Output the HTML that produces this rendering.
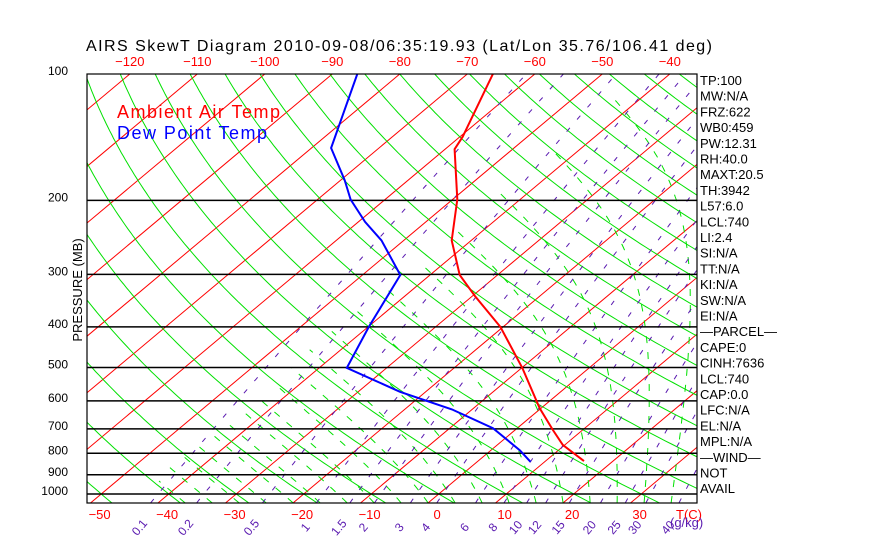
<!DOCTYPE html>
<html><head><meta charset="utf-8"><style>
body{margin:0;background:#fff;}
svg{display:block;font-family:"Liberation Sans",sans-serif;}
</style></head><body>
<svg id="chart" width="870" height="560" viewBox="0 0 870 560" xmlns="http://www.w3.org/2000/svg">
<defs><clipPath id="plotclip"><rect x="87" y="74" width="610" height="429"/></clipPath></defs>
<rect x="0" y="0" width="870" height="560" fill="#fff"/>
<text x="86" y="51" font-size="16" fill="#000" textLength="626" lengthAdjust="spacing">AIRS SkewT Diagram 2010-09-08/06:35:19.93 (Lat/Lon 35.76/106.41 deg)</text>
<g id="grid" clip-path="url(#plotclip)"></g>
<g id="profiles" clip-path="url(#plotclip)"></g>
<rect x="87" y="74" width="610" height="429" fill="none" stroke="#000" stroke-width="1.2"/>
<g id="labels"></g>
<text x="117" y="118" font-size="18" fill="#ff0000" textLength="163" lengthAdjust="spacing">Ambient Air Temp</text>
<text x="117" y="139" font-size="18" fill="#0000ff" textLength="150" lengthAdjust="spacing">Dew Point Temp</text>
<text transform="translate(82,290) rotate(-90)" font-size="13" text-anchor="middle" fill="#000">PRESSURE (MB)</text>
<text x="676" y="519" font-size="13" fill="#ff0000">T(C)</text>
<text x="670" y="527" font-size="13" fill="#5a1ab0">(g/kg)</text>
<g id="info"></g>
</svg>
<script>
var isobarLevels=[100,200,300,400,500,600,700,800,900,1000];
var isotherms=[-130,-120,-110,-100,-90,-80,-70,-60,-50,-40,-30,-20,-10,0,10,20,30,40];
var topTempLabels=[-120,-110,-100,-90,-80,-70,-60,-50,-40];
var bottomTempLabels=[-50,-40,-30,-20,-10,0,10,20,30];
var mixingRatios=[0.1,0.2,0.5,1,1.5,2,3,4,6,8,10,12,15,20,25,30,40];
var tempPressure=[100,141,151,199,249,301,338,400,501,625,704,764,835];
var tempValues=[-66.2,-59.6,-58.6,-49.3,-42.9,-35.6,-29.6,-20.4,-9.9,-0.2,5.6,9.7,15.7];
var dewPressure=[100,150,179,199,225,249,301,400,501,571,629,697,787,838];
var dewValues=[-86.3,-77.1,-69.4,-65.1,-59.0,-53.3,-44.4,-39.9,-35.9,-23.8,-13.0,-3.6,4.3,7.9];
var infoLabels=["TP:100","MW:N/A","FRZ:622","WB0:459","PW:12.31","RH:40.0","MAXT:20.5","TH:3942","L57:6.0","LCL:740","LI:2.4","SI:N/A","TT:N/A","KI:N/A","SW:N/A","EI:N/A","\u2014PARCEL\u2014","CAPE:0","CINH:7636","LCL:740","CAP:0.0","LFC:N/A","EL:N/A","MPL:N/A","\u2014WIND\u2014"," NOT"," AVAIL"];

var NS="http://www.w3.org/2000/svg";
var PB=1050,PT=100,YT=74,K=182.4,X0=428,YB=503,DX=6.75,SK=1.193;
function yP(p){return YT+K*Math.log(p/PT);}
function xT(t,p){return X0+DX*t+(YB-yP(p))*SK;}
function mk(tag,attrs,parent){var e=document.createElementNS(NS,tag);for(var k in attrs)e.setAttribute(k,attrs[k]);parent.appendChild(e);return e;}
var grid=document.getElementById('grid'),prof=document.getElementById('profiles'),lab=document.getElementById('labels'),info=document.getElementById('info');
var presSteps=[];for(var lp=Math.log(PB);lp>=Math.log(PT)-1e-9;lp-=0.02)presSteps.push(Math.exp(lp));presSteps.push(PT);
function pathFrom(ps,ts){var d='';for(var i=0;i<ps.length;i++){d+=(i?'L':'M')+xT(ts[i],ps[i]).toFixed(1)+','+yP(ps[i]).toFixed(1);}return d;}

isotherms.forEach(function(t){
 var l=mk('line',{x1:xT(t,PB),y1:yP(PB),x2:xT(t,PT),y2:yP(PT),stroke:'#ff0000','stroke-width':1},grid);
 
 
});
for(var th=-70;th<=250;th+=10){
 var ts=presSteps.map(function(p){return (th+273.15)*Math.pow(p/1000,0.286)-273.15;});
 var pa=mk('path',{d:pathFrom(presSteps,ts),fill:'none',stroke:'#00e000','stroke-width':1},grid);
 
 
}
function es(t){return 6.112*Math.exp(17.67*t/(t+243.5));}
for(var t0=-36;t0<=44;t0+=4){
 var T=t0+273.15,ps=[],tsm=[],p=PB;
 for(var i=0;i<presSteps.length;i++){
  var pn=presSteps[i];
  if(i>0){var dp=pn-p;var tc=T-273.15;var e=es(tc);var rs=0.622*e/(p-e);
   var dTdp=(287*T+2.5e6*rs)/(p*(1004+2.5e6*2.5e6*rs*0.622/(287*T*T)));T+=dTdp*dp;p=pn;}
  if(T-273.15<-45)break;
  ps.push(pn);tsm.push(T-273.15);
 }
 if(ps.length<2)continue;
 var pm=mk('path',{d:pathFrom(ps,tsm),fill:'none',stroke:'#00e000','stroke-width':1,'stroke-dasharray':'7 9'},grid);
 
 
}
mixingRatios.forEach(function(w){
 var ts=presSteps.map(function(p){var e=w*p/(622+w);var a=Math.log(e/6.112);return 243.5*a/(17.67-a);});
 var pw=mk('path',{d:pathFrom(presSteps,ts),fill:'none',stroke:'#5a1ab0','stroke-width':1,'stroke-dasharray':'5 11'},grid);
 
 
 var x=xT(ts[0],PB)-8;
 var tx=mk('text',{transform:'translate('+x.toFixed(1)+',530) rotate(-50)','font-size':12,fill:'#5a1ab0','text-anchor':'middle'},lab);
 tx.textContent=String(w);
 
 
});
isobarLevels.forEach(function(p){
 var y=yP(p);
 if(p>100){var l=mk('line',{x1:87,y1:y,x2:697,y2:y,stroke:'#000','stroke-width':1.5},grid);
 
 }
 var t=mk('text',{x:68,y:y+1,'font-size':12,'text-anchor':'end',fill:'#000'},lab);
 t.textContent=String(p);
 
 
});
topTempLabels.forEach(function(t){
 var tx=mk('text',{x:xT(t,PT),y:66,'font-size':13,'text-anchor':'middle',fill:'#ff0000'},lab);
 tx.textContent=String(t).replace('-','\u2212');
 
 
});
bottomTempLabels.forEach(function(t){
 var tx=mk('text',{x:xT(t,PB)+9,y:519,'font-size':13,'text-anchor':'middle',fill:'#ff0000'},lab);
 tx.textContent=String(t).replace('-','\u2212');
 
 
});
var tp=mk('path',{d:pathFrom(tempPressure,tempValues),fill:'none',stroke:'#ff0000','stroke-width':2},prof);


var dpth=mk('path',{d:pathFrom(dewPressure,dewValues),fill:'none',stroke:'#0000ff','stroke-width':2},prof);


infoLabels.forEach(function(s,i){
 var tx=mk('text',{x:700,y:85+i*15.7,'font-size':13,fill:'#000','xml:space':'preserve'},info);
 tx.textContent=s;
 
 
});
</script>
</body></html>
